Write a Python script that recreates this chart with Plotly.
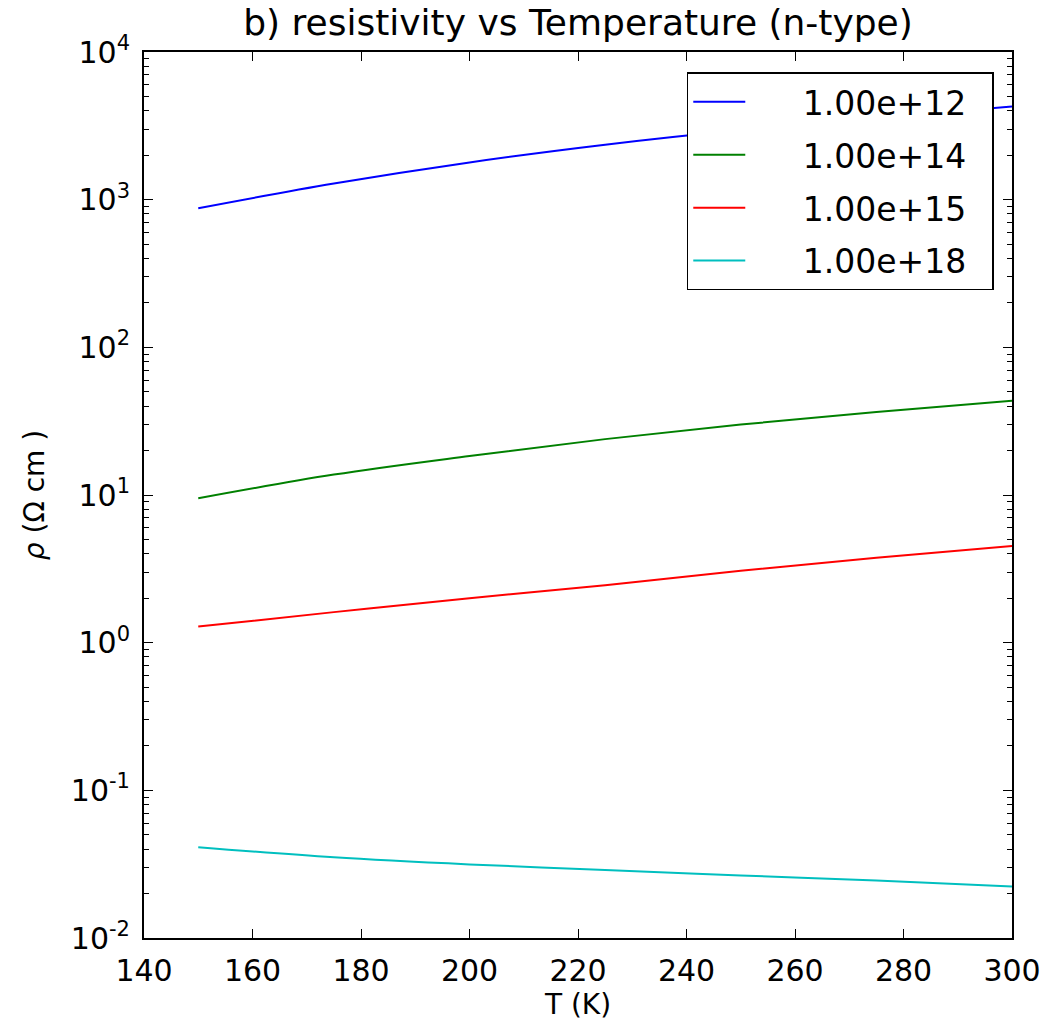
import plotly.graph_objects as go

T = [150, 175, 200, 225, 250, 275, 300]
labels = ["1.00e+12", "1.00e+14", "1.00e+15", "1.00e+18"]
rho_1e12 = [875, 1286, 1787, 2355, 2960, 3576, 4270]
rho_1e14 = [9.5, 13.75, 18.37, 23.9, 30.0, 36.5, 43.4]
rho_1e15 = [1.285, 1.61, 2.00, 2.45, 3.07, 3.76, 4.52]
rho_1e18 = [0.0412, 0.0352, 0.0315, 0.0289, 0.0265, 0.0245, 0.0223]
colors = ["#0000ff", "#008000", "#ff0000", "#00bfbf"]

x_ticks = [140, 160, 180, 200, 220, 240, 260, 280, 300]
y_exps = [-2, -1, 0, 1, 2, 3, 4]

series = [rho_1e12, rho_1e14, rho_1e15, rho_1e18]

NB = "\u00a0"
fig = go.Figure()
for i, (name, ys, c) in enumerate(zip(labels, series, colors)):
    fig.add_trace(go.Scatter(x=T, y=ys, mode="lines", name=NB * 5 + name + NB * 2,
                             legendgroup=f"g{i}",
                             line=dict(color=c, width=2, shape="spline")))

FONT = "DejaVu Sans"
major_y = [10 ** e for e in y_exps]
minor_y = [m * 10 ** e for e in y_exps[:-1] for m in range(2, 10)]

fig.update_layout(
    width=1048, height=1021,
    margin=dict(l=144, r=36, t=52, b=83),
    paper_bgcolor="white", plot_bgcolor="white",
    font=dict(family=FONT, color="black", size=30),
    title=dict(text="b) resistivity vs Temperature (n-type)", x=0.5, xref="paper",
               xanchor="center", y=1 - 22 / 1021, yanchor="middle",
               font=dict(size=36, family=FONT)),
    showlegend=True,
    legend=dict(x=0.979, y=0.977, xanchor="right", yanchor="top",
                bgcolor="white", bordercolor="black", borderwidth=1.5,
                font=dict(size=33, family=FONT), itemwidth=52,
                traceorder="grouped", tracegroupgap=7),
    xaxis=dict(range=[140, 300], tickvals=x_ticks, ticktext=[str(v) for v in x_ticks],
               ticks="inside", ticklen=9, tickwidth=1.2, tickcolor="black",
               showline=True, linecolor="black", linewidth=2, mirror="ticks",
               showgrid=False, zeroline=False, ticklabelstandoff=5,
               tickfont=dict(size=30), automargin=False,
               title=dict(text="T (K)", font=dict(size=28), standoff=6)),
    yaxis=dict(type="log", range=[-2, 4], tickvals=major_y,
               ticktext=[f"10<sup>{e}</sup>" for e in y_exps],
               ticks="inside", ticklen=9, tickwidth=1.2, tickcolor="black",
               showline=True, linecolor="black", linewidth=2, mirror="ticks",
               showgrid=False, zeroline=False, ticklabelstandoff=6,
               tickfont=dict(size=30), automargin=False,
               minor=dict(tickvals=minor_y, ticks="inside", ticklen=5,
                          tickwidth=1, tickcolor="black", showgrid=False),
               title=dict(text="<i>ρ</i> (Ω cm )", font=dict(size=28), standoff=18)),
)

fig.write_html("out.html")
